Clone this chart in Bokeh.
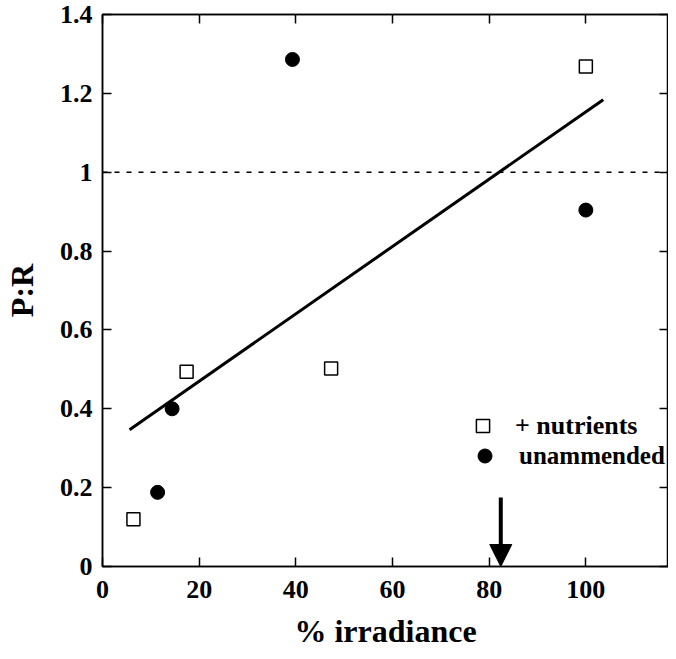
from bokeh.plotting import figure
from bokeh.models import (FixedTicker, LinearAxis, Span, Arrow, NormalHead, Legend,
                          LegendItem, Range1d)
from bokeh.embed import file_html
from bokeh.resources import INLINE

# data
nutr_x = [6.4, 17.4, 47.3, 100.0]
nutr_y = [0.12, 0.494, 0.502, 1.268]
unam_x = [11.4, 14.4, 39.3, 100.0]
unam_y = [0.188, 0.40, 1.286, 0.904]
fit_x = [5.6, 103.6]
fit_y = [0.347, 1.184]
ref_level = 1.0
arrow_x = 82.4
arrow_top = 0.175
x_ticks = [0, 20, 40, 60, 80, 100]
y_ticks = [0, 0.2, 0.4, 0.6, 0.8, 1, 1.2, 1.4]
y_labels = {0: "0", 0.2: "0.2", 0.4: "0.4", 0.6: "0.6", 0.8: "0.8", 1: "1", 1.2: "1.2", 1.4: "1.4"}
x_title = "% irradiance"
y_title = "P:R"

FONT = "Liberation Serif"

p = figure(width=668, height=651, output_backend="svg", toolbar_location=None,
           x_range=Range1d(0, 117.1), y_range=Range1d(0, 1.4),
           min_border_left=101, min_border_top=14, min_border_bottom=84, min_border_right=0,
           x_axis_label=x_title, y_axis_label=y_title)
p.grid.visible = False
p.outline_line_color = "black"
p.outline_line_width = 1.5
p.background_fill_color = "white"
p.border_fill_color = "white"

for ax in (p.xaxis[0], p.yaxis[0]):
    ax.axis_line_width = 1.5
    ax.major_tick_line_width = 1.5
    ax.major_tick_in = 9
    ax.major_tick_out = 0
    ax.minor_tick_line_color = None
    ax.major_label_text_font = FONT
    ax.major_label_text_font_style = "bold"
    ax.major_label_text_font_size = "26px"
    ax.major_label_text_color = "black"
    ax.axis_label_text_font = FONT
    ax.axis_label_text_font_style = "bold"
    ax.axis_label_text_font_size = "32px"
    ax.axis_label_text_color = "black"

p.xaxis[0].ticker = FixedTicker(ticks=x_ticks)
p.yaxis[0].ticker = FixedTicker(ticks=y_ticks)
p.yaxis[0].major_label_overrides = y_labels
p.xaxis[0].major_label_standoff = 14
p.xaxis[0].axis_label_standoff = 12
p.yaxis[0].major_label_standoff = 10
p.yaxis[0].axis_label_standoff = 17

top = LinearAxis(ticker=FixedTicker(ticks=x_ticks), major_label_text_font_size="0px",
                 major_label_text_color=None,
                 major_tick_in=9, major_tick_out=0, minor_tick_line_color=None,
                 major_label_standoff=0, axis_line_width=1.5, major_tick_line_width=1.5)
right = LinearAxis(ticker=FixedTicker(ticks=y_ticks), major_label_text_font_size="0px",
                   major_label_text_color=None,
                   major_tick_in=9, major_tick_out=0, minor_tick_line_color=None,
                   major_label_standoff=0, axis_line_width=1.5, major_tick_line_width=1.5)
p.add_layout(top, "above")
p.add_layout(right, "right")

p.add_layout(Span(location=ref_level, dimension="width", line_color="black",
                  line_width=1.5, line_dash="5 7"))

p.line(fit_x, fit_y, line_color="black", line_width=3)

r_sq = p.scatter(nutr_x, nutr_y, marker="square", size=13, fill_color="white",
                 line_color="black", line_width=1.5)
r_ci = p.scatter(unam_x, unam_y, marker="circle", size=14, fill_color="black",
                 line_color="black")

p.add_layout(Arrow(end=NormalHead(size=22, fill_color="black", line_color="black"),
                   x_start=arrow_x, y_start=arrow_top, x_end=arrow_x, y_end=0,
                   line_width=4, line_color="black"))

leg1 = Legend(items=[LegendItem(label="+ nutrients", renderers=[r_sq])],
              location=(364, 124), glyph_width=33, glyph_height=33, label_standoff=16,
              padding=0, margin=0, border_line_color=None, background_fill_alpha=0,
              label_text_font=FONT, label_text_font_style="bold", label_text_font_size="26px",
              label_text_color="black")
leg2 = Legend(items=[LegendItem(label="unammended", renderers=[r_ci])],
              location=(365, 93), glyph_width=35, glyph_height=35, label_standoff=17,
              padding=0, margin=0, border_line_color=None, background_fill_alpha=0,
              label_text_font=FONT, label_text_font_style="bold", label_text_font_size="25px",
              label_text_color="black")
p.add_layout(leg1)
p.add_layout(leg2)

open("out.html", "w").write(file_html(p, INLINE))
